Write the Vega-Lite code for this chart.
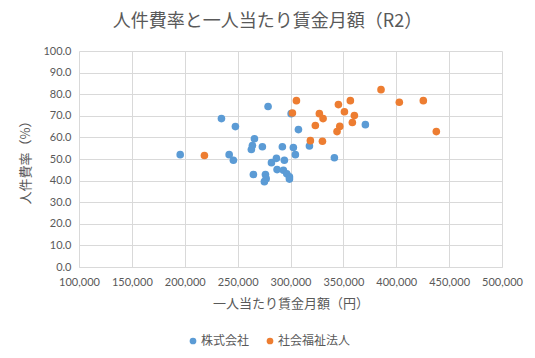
{
  "$schema": "https://vega.github.io/schema/vega-lite/v6.json",
  "autosize": "none",
  "width": 423,
  "height": 216,
  "padding": {"left": 79, "top": 51, "right": 33, "bottom": 91},
  "background": "white",
  "title": {
    "text": "人件費率と一人当たり賃金月額（R2）",
    "font": "Noto Sans CJK JP",
    "fontSize": 18,
    "fontWeight": "normal",
    "color": "#595959",
    "anchor": "middle",
    "dx": -23,
    "offset": 14
  },
  "data": {
    "values": [
      {"x": 195700, "y": 52.0, "type": "株式会社"},
      {"x": 234700, "y": 68.7, "type": "株式会社"},
      {"x": 247900, "y": 65.0, "type": "株式会社"},
      {"x": 242000, "y": 52.0, "type": "株式会社"},
      {"x": 246000, "y": 49.4, "type": "株式会社"},
      {"x": 278800, "y": 74.3, "type": "株式会社"},
      {"x": 265900, "y": 59.4, "type": "株式会社"},
      {"x": 264000, "y": 56.2, "type": "株式会社"},
      {"x": 263000, "y": 54.4, "type": "株式会社"},
      {"x": 273400, "y": 55.7, "type": "株式会社"},
      {"x": 264900, "y": 42.8, "type": "株式会社"},
      {"x": 276300, "y": 42.8, "type": "株式会社"},
      {"x": 277000, "y": 40.9, "type": "株式会社"},
      {"x": 275300, "y": 39.5, "type": "株式会社"},
      {"x": 282000, "y": 48.3, "type": "株式会社"},
      {"x": 286700, "y": 50.3, "type": "株式会社"},
      {"x": 287300, "y": 45.1, "type": "株式会社"},
      {"x": 292300, "y": 55.7, "type": "株式会社"},
      {"x": 294200, "y": 49.4, "type": "株式会社"},
      {"x": 293300, "y": 44.8, "type": "株式会社"},
      {"x": 296500, "y": 43.2, "type": "株式会社"},
      {"x": 299000, "y": 41.7, "type": "株式会社"},
      {"x": 299000, "y": 40.7, "type": "株式会社"},
      {"x": 300600, "y": 71.0, "type": "株式会社"},
      {"x": 302700, "y": 55.3, "type": "株式会社"},
      {"x": 304600, "y": 52.0, "type": "株式会社"},
      {"x": 307500, "y": 63.6, "type": "株式会社"},
      {"x": 317900, "y": 56.0, "type": "株式会社"},
      {"x": 341500, "y": 50.6, "type": "株式会社"},
      {"x": 370800, "y": 65.9, "type": "株式会社"},
      {"x": 218600, "y": 51.6, "type": "社会福祉法人"},
      {"x": 301800, "y": 71.3, "type": "社会福祉法人"},
      {"x": 305600, "y": 77.0, "type": "社会福祉法人"},
      {"x": 323500, "y": 65.5, "type": "社会福祉法人"},
      {"x": 318800, "y": 58.5, "type": "社会福祉法人"},
      {"x": 327300, "y": 71.0, "type": "社会福祉法人"},
      {"x": 330800, "y": 68.7, "type": "社会福祉法人"},
      {"x": 330200, "y": 58.2, "type": "社会福祉法人"},
      {"x": 345300, "y": 75.2, "type": "社会福祉法人"},
      {"x": 351000, "y": 71.9, "type": "社会福祉法人"},
      {"x": 346600, "y": 65.1, "type": "社会福祉法人"},
      {"x": 344000, "y": 62.7, "type": "社会福祉法人"},
      {"x": 385600, "y": 82.1, "type": "社会福祉法人"},
      {"x": 402900, "y": 76.3, "type": "社会福祉法人"},
      {"x": 425600, "y": 77.0, "type": "社会福祉法人"},
      {"x": 437900, "y": 62.7, "type": "社会福祉法人"},
      {"x": 356600, "y": 77.0, "type": "社会福祉法人"},
      {"x": 360400, "y": 70.1, "type": "社会福祉法人"},
      {"x": 358500, "y": 66.9, "type": "社会福祉法人"}
    ]
  },
  "mark": {"type": "circle", "size": 58, "opacity": 1},
  "encoding": {
    "x": {
      "field": "x",
      "type": "quantitative",
      "scale": {"domain": [100000, 500000], "nice": false, "zero": false},
      "axis": {
        "title": "一人当たり賃金月額（円）",
        "values": [100000, 150000, 200000, 250000, 300000, 350000, 400000, 450000, 500000],
        "format": ",.0f",
        "labelOverlap": false,
        "labelFlush": false,
        "labelFont": "Lato",
        "labelFontSize": 11,
        "labelColor": "#595959",
        "labelPadding": 9,
        "titleFont": "Noto Sans CJK JP",
        "titleFontSize": 13,
        "titleFontWeight": "normal",
        "titleColor": "#595959",
        "titlePadding": 10,
        "grid": true,
        "gridColor": "#D9D9D9",
        "domainColor": "#D9D9D9",
        "ticks": false
      }
    },
    "y": {
      "field": "y",
      "type": "quantitative",
      "scale": {"domain": [0, 100], "nice": false},
      "axis": {
        "title": "人件費率（%）",
        "values": [0, 10, 20, 30, 40, 50, 60, 70, 80, 90, 100],
        "format": ".1f",
        "labelOverlap": false,
        "labelFlush": false,
        "labelFont": "Lato",
        "labelFontSize": 11,
        "labelColor": "#595959",
        "labelPadding": 8,
        "titleFont": "Noto Sans CJK JP",
        "titleFontSize": 13,
        "titleFontWeight": "normal",
        "titleColor": "#595959",
        "titlePadding": 10,
        "grid": true,
        "gridColor": "#D9D9D9",
        "domain": false,
        "ticks": false
      }
    },
    "color": {
      "field": "type",
      "type": "nominal",
      "scale": {"domain": ["株式会社", "社会福祉法人"], "range": ["#5B9BD5", "#ED7D31"]},
      "legend": {
        "title": null,
        "orient": "none",
        "direction": "horizontal",
        "legendX": 108,
        "legendY": 284,
        "symbolType": "circle",
        "symbolSize": 45,
        "labelFont": "Noto Sans CJK JP",
        "labelFontSize": 12,
        "labelColor": "#595959",
        "labelOffset": 2,
        "columnPadding": 14
      }
    }
  },
  "config": {"view": {"stroke": null}}
}
